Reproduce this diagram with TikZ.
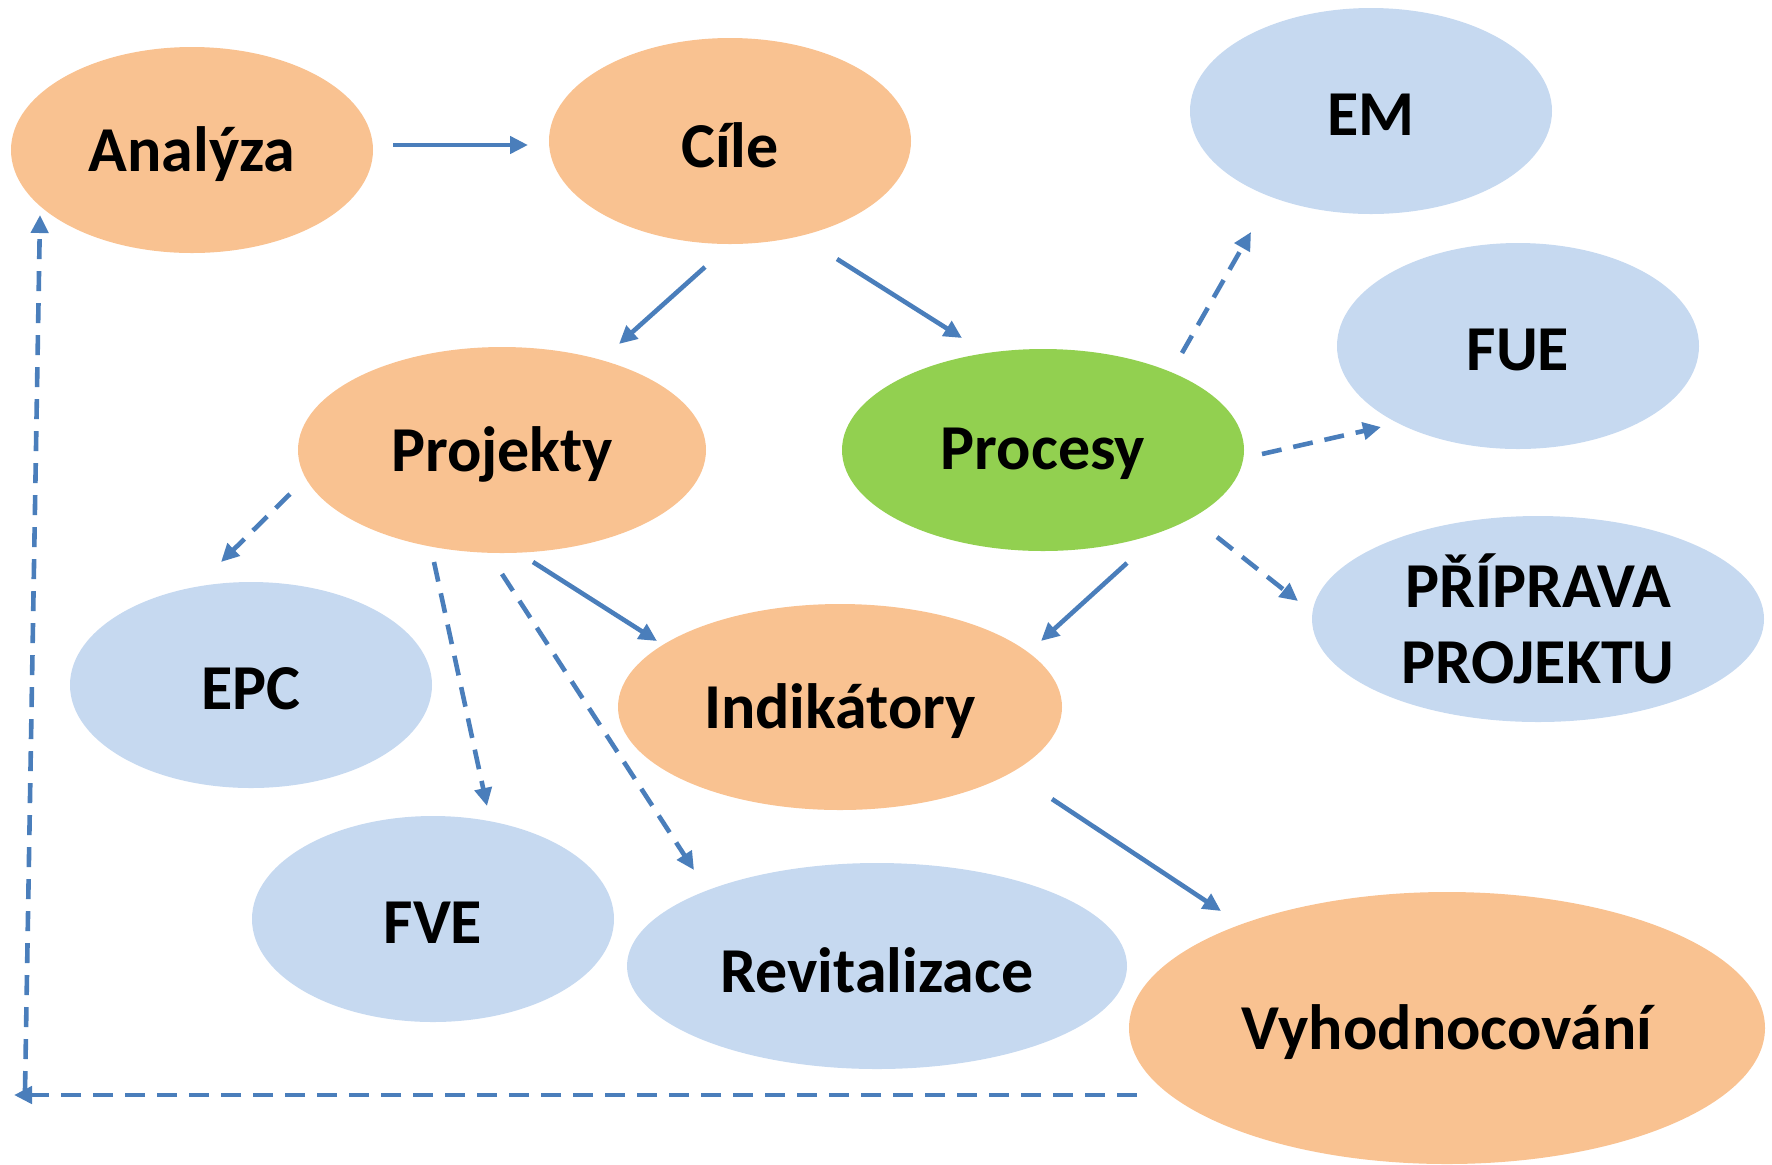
\documentclass[tikz,border=0pt]{standalone}
\usepackage{fontspec}
\setmainfont{Carlito}
\usetikzlibrary{shapes.geometric,arrows.meta}
\definecolor{orng}{HTML}{F9C291}
\definecolor{lblue}{HTML}{C6D9F0}
\definecolor{grn}{HTML}{92D050}
\definecolor{lne}{HTML}{4A7EBB}
\newcommand\lbl[1]{\raisebox{-2pt}[\height][\depth]{#1}}
\begin{document}
\begin{tikzpicture}[x=0.5pt,y=-0.5pt,
  bub/.style={ellipse,inner sep=0pt,font=\fontsize{32}{38}\selectfont\bfseries,align=center},
  obub/.style={bub,fill=orng},
  bbub/.style={bub,fill=lblue},
  gbub/.style={bub,fill=grn},
  conn/.style={draw=lne,line width=2.3pt,-{Triangle[length=9pt,width=8.5pt]}},
  dconn/.style={conn,dash pattern=on 10pt off 6pt}]
\useasboundingbox (0,0) rectangle (1772,1164);
\node[obub,minimum width=181pt,minimum height=103pt] (ana) at (192,150) {\lbl{Analýza}};
\node[obub,minimum width=181pt,minimum height=103pt] (cil) at (730,141) {\lbl{Cíle}};
\node[bbub,minimum width=181pt,minimum height=103pt] (em) at (1371,111) {\lbl{EM}};
\node[bbub,minimum width=181pt,minimum height=103pt] (fue) at (1518,346) {\lbl{FUE}};
\node[obub,minimum width=204pt,minimum height=103pt] (proj) at (502,450) {\lbl{Projekty}};
\node[gbub,minimum width=201pt,minimum height=101pt] (proc) at (1043,450) {\lbl{Procesy}};
\node[bbub,minimum width=226pt,minimum height=103pt] (prip) at (1538,619) {PŘÍPRAVA\\PROJEKTU};
\node[bbub,minimum width=181pt,minimum height=103pt] (epc) at (251,685) {\lbl{EPC}};
\node[obub,minimum width=222pt,minimum height=103pt] (ind) at (840,707) {\lbl{Indikátory}};
\node[bbub,minimum width=181pt,minimum height=103pt] (fve) at (433,919) {\lbl{FVE}};
\node[bbub,minimum width=250pt,minimum height=103pt] (rev) at (877,966) {\lbl{Revitalizace}};
\node[obub,minimum width=318pt,minimum height=136pt] (vyh) at (1447,1028) {\lbl{Vyhodnocování}};
% connector end points
\coordinate (a1) at (393,145); \coordinate (a2) at (528,145);
\coordinate (b1) at (705,267); \coordinate (b2) at (619,344);
\coordinate (c1) at (837,259); \coordinate (c2) at (962,338);
\coordinate (d1) at (1182,353); \coordinate (d2) at (1251,232);
\coordinate (e1) at (1262,454); \coordinate (e2) at (1381,427);
\coordinate (f1) at (1217,537); \coordinate (f2) at (1298,601);
\coordinate (g1) at (1127,563); \coordinate (g2) at (1041,641);
\coordinate (h1) at (290,494); \coordinate (h2) at (221,562);
\coordinate (i1) at (434,562); \coordinate (i2) at (487,806);
\coordinate (j1) at (502,574); \coordinate (j2) at (694,870);
\coordinate (k1) at (533,562); \coordinate (k2) at (657,641);
\coordinate (l1) at (1052,799); \coordinate (l2) at (1221,911);
\coordinate (m1) at (1137,1095); \coordinate (m2) at (14,1095);
\coordinate (n1) at (25,1091); \coordinate (n2) at (40,215);
\draw[conn] (a1) -- (a2);
\draw[conn] (b1) -- (b2);
\draw[conn] (c1) -- (c2);
\draw[dconn] (d1) -- (d2);
\draw[dconn] (e1) -- (e2);
\draw[dconn] (f1) -- (f2);
\draw[conn] (g1) -- (g2);
\draw[dconn] (h1) -- (h2);
\draw[dconn] (i1) -- (i2);
\draw[dconn] (j1) -- (j2);
\draw[conn] (k1) -- (k2);
\draw[conn] (l1) -- (l2);
\draw[dconn] (m1) -- (m2);
\draw[dconn] (n1) -- (n2);
\end{tikzpicture}
\end{document}
